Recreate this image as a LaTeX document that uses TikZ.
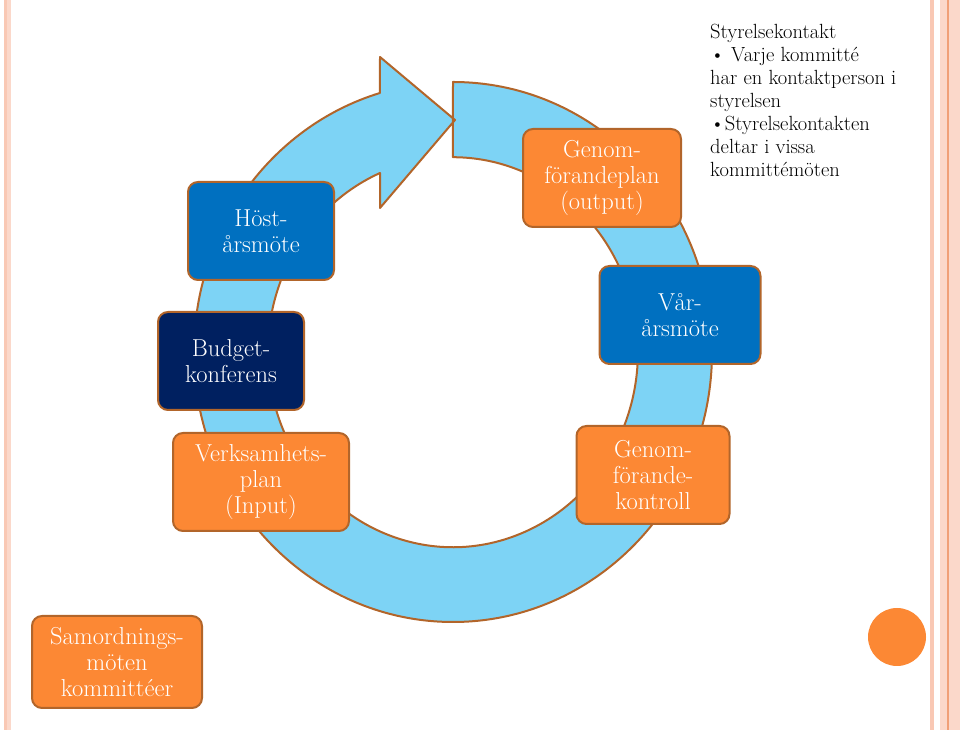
\documentclass[tikz,border=0pt]{standalone}
\usepackage{tikz}

\definecolor{ringfill}{RGB}{125,211,245}
\definecolor{ringline}{RGB}{178,101,42}
\definecolor{boxblue}{RGB}{0,112,192}
\definecolor{boxnavy}{RGB}{0,32,96}
\definecolor{boxorange}{RGB}{252,136,52}
\definecolor{stripe}{RGB}{249,200,180}
\definecolor{stripedark}{RGB}{240,160,120}

\begin{document}
\begin{tikzpicture}
[x=1pt,y=1pt,line join=round,
 box/.style={rectangle,rounded corners=10pt,draw=ringline,line width=2pt,text=white,
   align=center,minimum height=98pt,inner sep=0pt,font=\fontsize{24.5}{26}\selectfont},
 ring/.style={fill=ringfill,draw=ringline,line width=2pt}]
\useasboundingbox (0,0) rectangle (960,730);

% page stripes
\fill[stripe] (4,0) rectangle (7,730);
\fill[stripe!70] (7,0) rectangle (11,730);
\fill[stripe] (930,0) rectangle (934,730);
\fill[stripe!70] (940,0) rectangle (960,730);
\fill[stripedark] (947,0) rectangle (949,730);

% the cycle arrow
\draw[ring] (453,648) arc[start angle=90,end angle=-253.6,x radius=259,y radius=270]
  -- (380,673) -- (455,610) -- (380,522) -- (380,557)
  arc[start angle=-246.8,end angle=90,x radius=185,y radius=195] -- cycle;

\node[box,fill=boxblue,minimum width=146pt] (host) at (261,499) {Höst-\\årsmöte};
\node[box,fill=boxorange,minimum width=158pt] (plan) at (602,552) {Genom-\\förandeplan\\(output)};
\node[box,fill=boxblue,minimum width=161pt] (var) at (680,415) {Vår-\\årsmöte};
\node[box,fill=boxorange,minimum width=153pt] (kontroll) at (653,255) {Genom-\\förande-\\kontroll};
\node[box,fill=boxnavy,minimum width=146pt] (budget) at (231,369) {Budget-\\konferens};
\node[box,fill=boxorange,minimum width=176pt] (verks) at (261,248) {Verksamhets-\\plan\\(Input)};
\node[box,fill=boxorange,minimum width=170pt,minimum height=92pt] (samord) at (117,68)
  {Samordnings-\\möten\\kommittéer};

\node (styr) [anchor=north west,align=left,inner sep=0pt,font=\fontsize{20.5}{23}\selectfont]
  at (710,706) {Styrelsekontakt\\\textbullet{} Varje kommitté\\har en kontaktperson i\\styrelsen\\
  \textbullet Styrelsekontakten\\deltar i vissa\\kommittémöten};

\node (dot) [circle,fill=boxorange,minimum size=58pt,inner sep=0pt] at (897,93) {};
\end{tikzpicture}
\end{document}
